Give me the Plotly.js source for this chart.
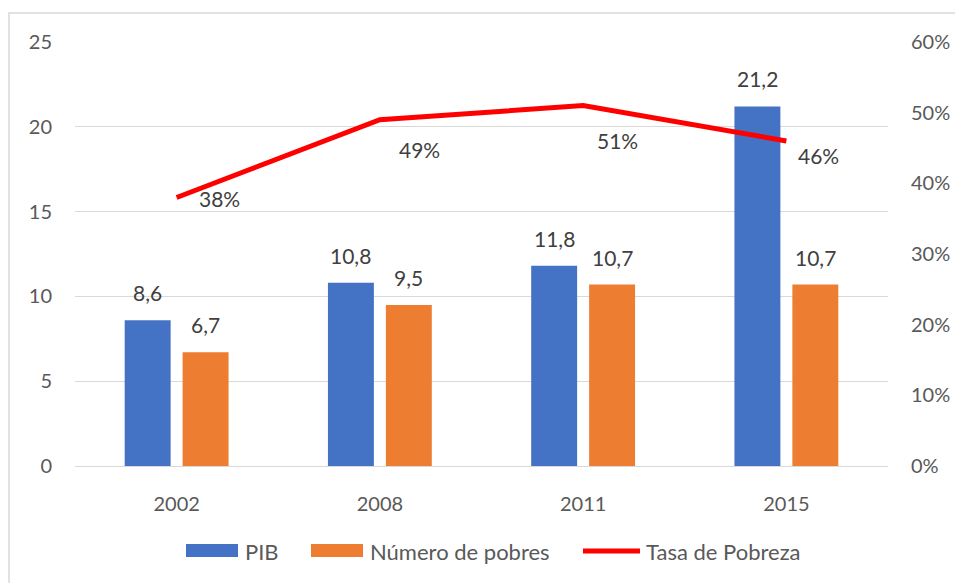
<!DOCTYPE html>
<html>
<head>
<meta charset="utf-8">
<script src="https://cdn.plot.ly/plotly-3.0.1.min.js"></script>
<style>html,body{margin:0;padding:0;background:#fff;}#chart{width:955px;height:583px;}</style>
</head>
<body>
<div id="chart"></div>
<script>
const years = ['2002', '2008', '2011', '2015'];
const pib = [8.6, 10.8, 11.8, 21.2];
const pobres = [6.7, 9.5, 10.7, 10.7];
const tasa = [0.38, 0.49, 0.51, 0.46];
const seriesNames = ['PIB', 'Número de pobres', 'Tasa de Pobreza'];

const FONT = 'Lato, "Open Sans", sans-serif';
const BLUE = '#4472c4', ORANGE = '#ed7d31', RED = '#ff0000';
const W = 955, H = 583, ML = 75, MR = 67, MT = 42, MB = 117;
const PW = W - ML - MR, PH = H - MT - MB;
const px = x => (x - ML) / PW;
const py = y => (H - MB - y) / PH;
const fmt = v => v.toFixed(1).replace('.', ',');
const pct = v => Math.round(v * 100) + '%';

const traces = [
  {type: 'bar', name: seriesNames[0], x: years, y: pib, marker: {color: BLUE}, showlegend: false, hoverinfo: 'none'},
  {type: 'bar', name: seriesNames[1], x: years, y: pobres, marker: {color: ORANGE}, showlegend: false, hoverinfo: 'none'},
  {type: 'scatter', mode: 'lines', name: seriesNames[2], x: years, y: tasa, yaxis: 'y2',
   line: {color: RED, width: 5}, showlegend: false, hoverinfo: 'none'}
];

const annotations = [];
const labFont = {family: FONT, size: 21, color: '#404040'};
years.forEach((yr, i) => {
  annotations.push({x: i, y: pib[i], xref: 'x', yref: 'y', text: fmt(pib[i]), showarrow: false,
    xshift: -29, yshift: 13, yanchor: 'bottom', font: labFont});
  annotations.push({x: i, y: pobres[i], xref: 'x', yref: 'y', text: fmt(pobres[i]), showarrow: false,
    xshift: 29, yshift: 13, yanchor: 'bottom', font: labFont});
});
const lineOffsets = [[43, -1], [40, -30], [34, -35], [32, -15]];
years.forEach((yr, i) => {
  annotations.push({x: i, y: tasa[i], xref: 'x', yref: 'y2', text: pct(tasa[i]), showarrow: false,
    xshift: lineOffsets[i][0], yshift: lineOffsets[i][1], font: labFont});
});

// legend
const legY = 551;
const legFont = {family: FONT, size: 22, color: '#595959'};
annotations.push({xref: 'paper', yref: 'paper', x: px(243), y: py(legY), xanchor: 'left', yanchor: 'middle', text: seriesNames[0], showarrow: false, font: legFont});
annotations.push({xref: 'paper', yref: 'paper', x: px(368), y: py(legY), xanchor: 'left', yanchor: 'middle', text: seriesNames[1], showarrow: false, font: legFont});
annotations.push({xref: 'paper', yref: 'paper', x: px(644), y: py(legY), xanchor: 'left', yanchor: 'middle', text: seriesNames[2], showarrow: false, font: legFont});

const shapes = [
  {type: 'rect', xref: 'paper', yref: 'paper', x0: px(186), x1: px(238), y0: py(544), y1: py(557), fillcolor: BLUE, line: {width: 0}},
  {type: 'rect', xref: 'paper', yref: 'paper', x0: px(311), x1: px(363), y0: py(544), y1: py(557), fillcolor: ORANGE, line: {width: 0}},
  {type: 'line', xref: 'paper', yref: 'paper', x0: px(583), x1: px(640), y0: py(legY), y1: py(legY), line: {color: RED, width: 5}},
  {type: 'path', xref: 'paper', yref: 'paper',
   path: `M${px(9)},${py(700)} L${px(9)},${py(13)} L${px(1000)},${py(13)}`,
   line: {color: '#d9d9d9', width: 1.5}}
];

const tickFont = {family: FONT, size: 20, color: '#595959'};
const layout = {
  width: W, height: H,
  margin: {l: ML, r: MR, t: MT, b: MB, pad: 0},
  paper_bgcolor: '#ffffff', plot_bgcolor: '#ffffff',
  separators: ',.',
  barmode: 'group', bargap: 0.43, bargroupgap: 0.207,
  xaxis: {type: 'category', range: [-0.5, years.length - 0.5], autorange: false, showgrid: false, showline: true, linecolor: '#d9d9d9', linewidth: 1,
    ticks: '', tickfont: tickFont, ticklabelstandoff: 20, fixedrange: true},
  yaxis: {range: [0, 25], autorange: false, dtick: 5, showgrid: true, gridcolor: '#d9d9d9', gridwidth: 1,
    zeroline: false, showline: false, ticks: '', tickfont: tickFont, ticklabelstandoff: 22, fixedrange: true},
  yaxis2: {range: [0, 0.6], autorange: false, dtick: 0.1, tickformat: '.0%', overlaying: 'y', side: 'right',
    showgrid: false, zeroline: false, showline: false, ticks: '', tickfont: tickFont, ticklabelstandoff: 22, fixedrange: true},
  showlegend: false,
  annotations: annotations,
  shapes: shapes,
  font: {family: FONT}
};

Plotly.newPlot('chart', traces, layout, {displayModeBar: false, staticPlot: true});
</script>
</body>
</html>
